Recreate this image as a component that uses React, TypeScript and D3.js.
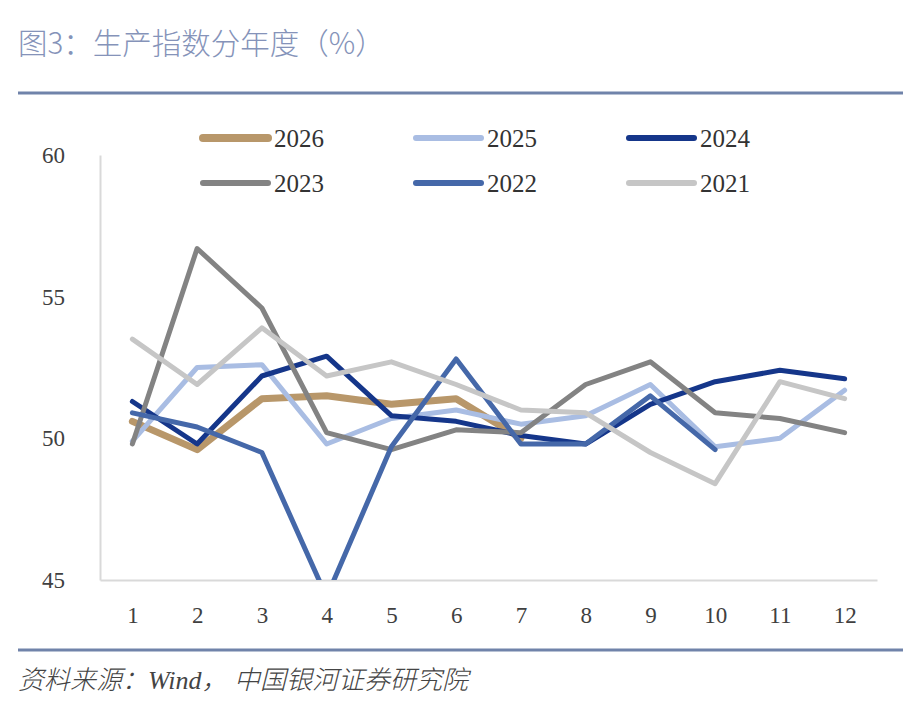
import React, { useEffect, useRef } from 'react';
import * as d3 from 'd3';

// months on the x axis
const months = [1, 2, 3, 4, 5, 6, 7, 8, 9, 10, 11, 12];
const yTicks = [45, 50, 55, 60];

// series values
const s2026 = [50.6, 49.6, 51.4, 51.5, 51.2, 51.4, 50.0];
const s2025 = [49.9, 52.5, 52.6, 49.8, 50.7, 51.0, 50.5, 50.8, 51.9, 49.7, 50.0, 51.7];
const s2024 = [51.3, 49.8, 52.2, 52.9, 50.8, 50.6, 50.1, 49.8, 51.2, 52.0, 52.4, 52.1];
const s2023 = [49.8, 56.7, 54.6, 50.2, 49.6, 50.3, 50.2, 51.9, 52.7, 50.9, 50.7, 50.2];
const s2022 = [50.9, 50.4, 49.5, 44.4, 49.7, 52.8, 49.8, 49.8, 51.5, 49.6];
const s2021 = [53.5, 51.9, 53.9, 52.2, 52.7, 51.9, 51.0, 50.9, 49.5, 48.4, 52.0, 51.4];

const seriesNames = ['2026', '2025', '2024', '2023', '2022', '2021'];
const seriesValues = [s2026, s2025, s2024, s2023, s2022, s2021];
const seriesColors = ['#b8976a', '#a9bde3', '#15368a', '#838383', '#4568a9', '#c6c6c6'];
const seriesWidths = [7, 5, 5, 5, 5, 5];

const W = 924;
const H = 716;
const serif = '"Liberation Serif", "Noto Sans CJK SC", serif';

const App: React.FC = () => {
  const svgRef = useRef<SVGSVGElement>(null);

  useEffect(() => {
    if (!svgRef.current) return;
    const svg = d3.select(svgRef.current);
    svg.selectAll('*').remove();

    const plot = { left: 100, right: 877, top: 155, bottom: 580 };

    const x = d3.scalePoint<number>()
      .domain(months)
      .range([plot.left, plot.right])
      .padding(0.5);

    const y = d3.scaleLinear()
      .domain([45, 60])
      .range([plot.bottom, plot.top]);

    // title
    svg.append('text')
      .attr('x', 18)
      .attr('y', 54)
      .style('font-family', '"Noto Sans CJK SC", sans-serif')
      .style('font-size', '29.5px')
      .style('font-weight', 300)
      .style('fill', '#8593b9')
      .text('图3：生产指数分年度（%）');

    // top and bottom rules
    svg.append('line')
      .attr('x1', 18).attr('x2', 903)
      .attr('y1', 93).attr('y2', 93)
      .attr('stroke', '#7083aa')
      .attr('stroke-width', 3);

    svg.append('line')
      .attr('x1', 18).attr('x2', 903)
      .attr('y1', 650).attr('y2', 650)
      .attr('stroke', '#7083aa')
      .attr('stroke-width', 3);

    // axes
    const yAxis = svg.append('g')
      .attr('transform', `translate(${plot.left},0)`)
      .call(d3.axisLeft(y).tickValues(yTicks).tickSize(0).tickPadding(35));
    yAxis.select('.domain').attr('stroke', '#d9d9d9').attr('stroke-width', 2);
    yAxis.selectAll('text')
      .style('font-family', serif)
      .style('font-size', '23px')
      .style('fill', '#404040');

    const xAxis = svg.append('g')
      .attr('transform', `translate(0,${plot.bottom})`)
      .call(d3.axisBottom(x).tickSize(0).tickPadding(27));
    xAxis.select('.domain').attr('stroke', '#d9d9d9').attr('stroke-width', 2);
    xAxis.selectAll('text')
      .style('font-family', serif)
      .style('font-size', '23px')
      .style('fill', '#404040');

    // clip lines to plot area
    svg.append('clipPath')
      .attr('id', 'plot-clip')
      .append('rect')
      .attr('x', 0)
      .attr('y', plot.top - 20)
      .attr('width', W)
      .attr('height', plot.bottom - plot.top + 20);

    const line = d3.line<number>()
      .x((_, i) => x(months[i]) || 0)
      .y(d => y(d));

    const lines = svg.append('g').attr('clip-path', 'url(#plot-clip)');
    seriesValues.forEach((vals, i) => {
      lines.append('path')
        .datum(vals)
        .attr('d', line)
        .attr('fill', 'none')
        .attr('stroke', seriesColors[i])
        .attr('stroke-width', seriesWidths[i])
        .attr('stroke-linejoin', 'round')
        .attr('stroke-linecap', 'round');
    });

    // legend
    const legendX = [200, 413, 626];
    const legendY = [138, 183];
    seriesNames.forEach((name, i) => {
      const lx = legendX[i % 3];
      const ly = legendY[Math.floor(i / 3)];
      svg.append('line')
        .attr('x1', lx + 3).attr('x2', lx + 68)
        .attr('y1', ly).attr('y2', ly)
        .attr('stroke', seriesColors[i])
        .attr('stroke-width', seriesWidths[i] + 1)
        .attr('stroke-linecap', 'round');
      svg.append('text')
        .attr('x', lx + 74)
        .attr('y', ly)
        .attr('dy', '0.35em')
        .style('font-family', serif)
        .style('font-size', '25px')
        .style('fill', '#333')
        .text(name);
    });

    // source note
    svg.append('text')
      .attr('x', 18)
      .attr('y', 689)
      .style('font-family', serif)
      .style('font-style', 'italic')
      .style('font-size', '26px')
      .style('font-weight', 300)
      .style('fill', '#444')
      .text('资料来源：Wind， 中国银河证券研究院');
  }, []);

  return (
    <div style={{ position: 'absolute', left: 0, top: 0, background: '#fff' }}>
      <svg ref={svgRef} width={W} height={H} style={{ display: 'block' }}></svg>
    </div>
  );
};

export default App;
